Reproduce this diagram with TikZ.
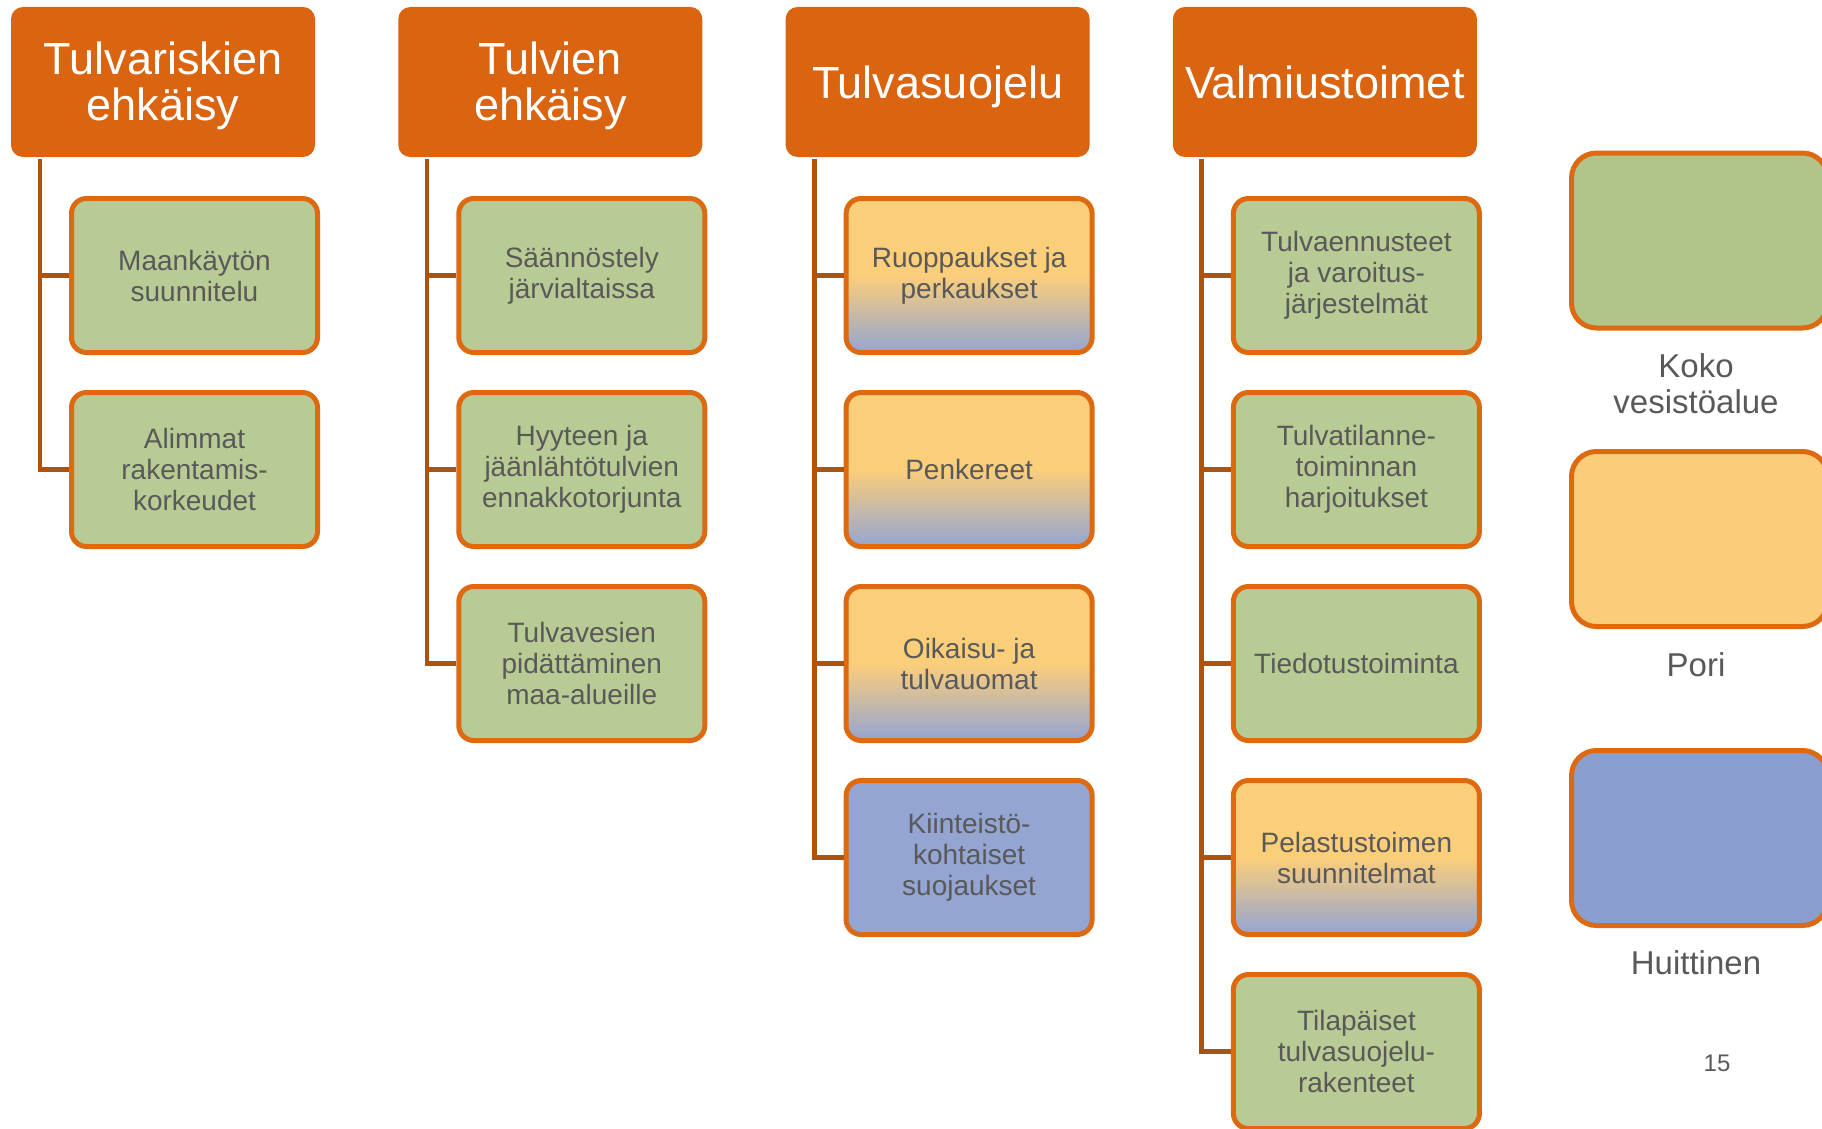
\documentclass[tikz,border=0pt]{standalone}
\usepackage{fontspec}
\setmainfont{Liberation Sans}
\definecolor{hdr}{HTML}{DA6410}
\definecolor{bord}{HTML}{DD6A10}
\definecolor{conn}{HTML}{AE530C}
\definecolor{txt}{HTML}{595959}
\definecolor{grn}{HTML}{B8CB94}
\definecolor{org}{HTML}{FBCE7A}
\definecolor{blu}{HTML}{94A5D2}
\definecolor{lgrn}{HTML}{B0C589}
\definecolor{lorg}{HTML}{FBCD78}
\definecolor{lblu}{HTML}{8A9FD0}
\begin{document}
\begin{tikzpicture}[x=1pt,y=-1pt,
  hdrbox/.style={rectangle, rounded corners=12pt, fill=hdr, draw=none,
    minimum width=304pt, minimum height=150pt, text=white,
    font=\fontsize{45}{46}\selectfont, align=center, inner sep=0pt},
  oneline/.style={text depth=0pt},
  twoline/.style={text depth=2pt},
  childbox/.style={rectangle, rounded corners=15pt, draw=bord, line width=5pt,
    minimum width=246pt, minimum height=154pt, text=txt,
    font=\fontsize{28}{31}\selectfont, align=center, inner sep=0pt},
  gfill/.style={fill=grn},
  bfill/.style={fill=blu},
  ofill/.style={top color=org, bottom color=blu, middle color=org},
  legbox/.style={rectangle, rounded corners=25pt, draw=bord, line width=5pt,
    minimum width=256pt, minimum height=175pt},
  legtext/.style={text=txt, font=\fontsize{33}{36}\selectfont, align=center, inner sep=0pt},
  connline/.style={draw=conn, line width=4.5pt}
]
\useasboundingbox (0,0) rectangle (1822,1129);

% headers
\node[hdrbox,twoline] (h1) at (163,82) {Tulvariskien\\ehkäisy};
\node[hdrbox,twoline] (h2) at (550.3,82) {Tulvien\\ehkäisy};
\node[hdrbox,oneline] (h3) at (937.6,82) {Tulvasuojelu};
\node[hdrbox,oneline] (h4) at (1324.9,82) {Valmiustoimet};

% column 1
\node[childbox,gfill] (a1) at (194.5,275.5) {Maankäytön\\suunnitelu};
\node[childbox,gfill] (a2) at (194.5,469.5) {Alimmat\\rakentamis-\\korkeudet};
% column 2
\node[childbox,gfill] (b1) at (581.8,275.5) {Säännöstely\\järvialtaissa};
\node[childbox,gfill] (b2) at (581.8,469.5) {Hyyteen ja\\jäänlähtötulvien\\ennakkotorjunta};
\node[childbox,gfill] (b3) at (581.8,663.5) {Tulvavesien\\pidättäminen\\maa-alueille};
% column 3
\node[childbox,ofill] (c1) at (969.1,275.5) {Ruoppaukset ja\\perkaukset};
\node[childbox,ofill] (c2) at (969.1,469.5) {Penkereet};
\node[childbox,ofill] (c3) at (969.1,663.5) {Oikaisu- ja\\tulvauomat};
\node[childbox,bfill] (c4) at (969.1,857.5) {Kiinteistö-\\kohtaiset\\suojaukset};
% column 4
\node[childbox,gfill] (d1) at (1356.4,275.5) {Tulvaennusteet\\ja varoitus-\\järjestelmät};
\node[childbox,gfill] (d2) at (1356.4,469.5) {Tulvatilanne-\\toiminnan\\harjoitukset};
\node[childbox,gfill] (d3) at (1356.4,663.5) {Tiedotustoiminta};
\node[childbox,ofill] (d4) at (1356.4,857.5) {Pelastustoimen\\suunnitelmat};
\node[childbox,gfill] (d5) at (1356.4,1051.5) {Tilapäiset\\tulvasuojelu-\\rakenteet};

% connectors
\foreach \h/\c in {h1/a1,h1/a2,h2/b1,h2/b2,h2/b3,h3/c1,h3/c2,h3/c3,h3/c4,h4/d1,h4/d2,h4/d3,h4/d4,h4/d5}{
  \draw[connline] ([xshift=29pt,yshift=-2pt]\h.south west) |- (\c.west);
}

% legend
\node[legbox,fill=lgrn] (l1) at (1699.5,240.5) {};
\node[legbox,fill=lorg] (l2) at (1699.5,539) {};
\node[legbox,fill=lblu] (l3) at (1699.5,838) {};
\node[legtext] (t1) at (1696,384) {Koko\\vesistöalue};
\node[legtext] (t2) at (1696,665) {Pori};
\node[legtext] (t3) at (1696,963) {Huittinen};
\node[text=txt, font=\fontsize{24}{26}\selectfont, inner sep=0pt] (pg) at (1717,1063) {15};
\end{tikzpicture}
\end{document}
